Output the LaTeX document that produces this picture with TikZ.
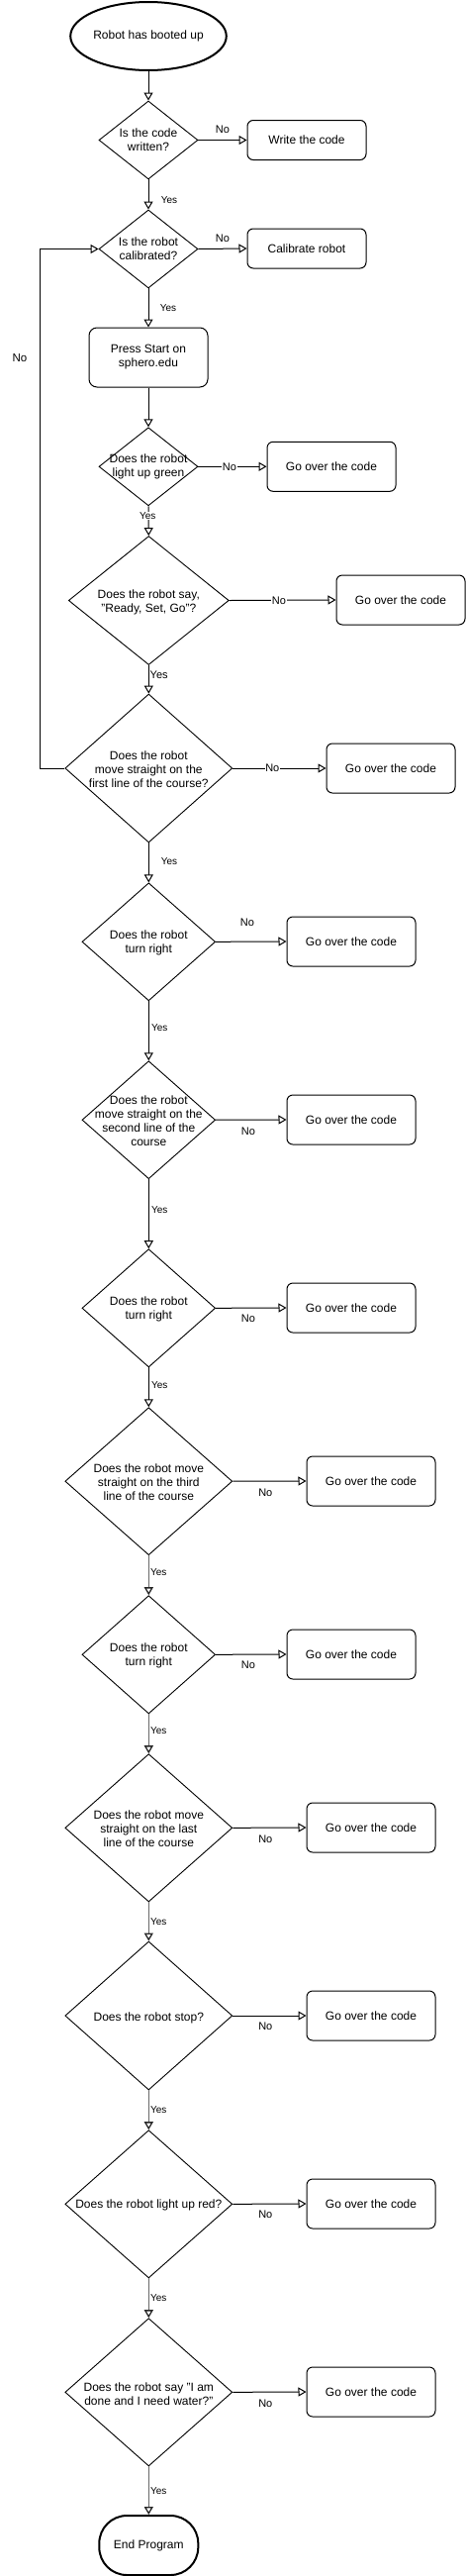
\documentclass[tikz,border=0pt]{standalone}
\usepackage{fontspec}
\setmainfont{Liberation Sans}
\usetikzlibrary{shapes.geometric,arrows.meta}
\definecolor{grayline}{RGB}{105,105,105}
\begin{document}
\begin{tikzpicture}[x=1pt,y=-1pt,
  every node/.style={font=\fontsize{12}{14}\selectfont},
  term/.style={draw=black,line width=2pt,ellipse,inner sep=0pt},
  dia/.style={draw=black,line width=0.9pt,diamond,inner sep=0pt},
  dtext/.style={align=center,inner sep=0pt},
  proc/.style={draw=black,line width=1pt,rounded corners=6pt,inner sep=0pt,minimum width=130pt,minimum height=50pt,align=center},
  arr/.style={draw=black,line width=1pt,-{Triangle[open,length=8pt,width=9pt]}},
  garr/.style={draw=grayline,line width=1.3pt,-{Triangle[open,length=8pt,width=9pt,color=black!85]}},
  lab/.style={font=\fontsize{11}{13}\selectfont,inner sep=0pt},
  ylab/.style={font=\fontsize{10}{12}\selectfont,inner sep=0pt},
  onl/.style={fill=white,inner sep=0.5pt}
]
\useasboundingbox (0,0) rectangle (471,2602);

% terminals
\node[term,minimum width=130pt,minimum height=69pt] (start) at (150,36.5) {Robot has booted up};
\node[draw=black,line width=2pt,rounded corners=28pt,minimum width=100pt,minimum height=60pt,inner sep=0pt] (end) at (150.3,2571) {End Program};

% diamonds
\node[dia,minimum width=100pt,minimum height=79pt] (d1) at (150,141.5) {};
\node[dtext] (d1t) at (d1) {Is the code\\written?};
\node[dia,minimum width=100pt,minimum height=79pt] (d2) at (150,251.5) {};
\node[dtext] (d2t) at (d2) {Is the robot\\calibrated?};
\node[dia,minimum width=100pt,minimum height=79pt] (d3) at (150,471.3) {};
\node[dtext] (d3t) at (d3) {Does the robot\\light up green};
\node[dia,minimum width=162pt,minimum height=130pt] (d4) at (150.3,606.5) {};
\node[dtext] (d4t) at ([yshift=-2pt]d4) {Does the robot say,\\ "Ready, Set, Go"?};
\node[dia,minimum width=169pt,minimum height=150pt] (d5) at (150.3,776) {};
\node[dtext] (d5t) at ([yshift=-1pt]d5) {Does the robot\\move straight on the\\first line of the course?};
\node[dia,minimum width=134.7pt,minimum height=119pt] (d6) at (150.3,951.3) {};
\node[dtext] (d6t) at ([yshift=-1.5pt]d6) {Does the robot\\turn right};
\node[dia,minimum width=134.7pt,minimum height=119pt] (d7) at (150.3,1131.2) {};
\node[dtext] (d7t) at ([yshift=-1pt]d7) {Does the robot\\move straight on the\\second line of the\\course};
\node[dia,minimum width=134.7pt,minimum height=119.3pt] (d8) at (150.3,1321.3) {};
\node[dtext] (d8t) at ([yshift=-1.5pt]d8) {Does the robot\\turn right};
\node[dia,minimum width=169pt,minimum height=149pt] (d9) at (150.3,1496.2) {};
\node[dtext] (d9t) at ([yshift=-1pt]d9) {Does the robot move\\straight on the third\\line of the course};
\node[dia,minimum width=134.7pt,minimum height=119.3pt] (d10) at (150.3,1671.3) {};
\node[dtext] (d10t) at ([yshift=-1.5pt]d10) {Does the robot\\turn right};
\node[dia,minimum width=169pt,minimum height=149.3pt] (d11) at (150.3,1846.3) {};
\node[dtext] (d11t) at ([yshift=-1pt]d11) {Does the robot move\\straight on the last\\line of the course};
\node[dia,minimum width=169pt,minimum height=150pt] (d12) at (150.3,2036) {};
\node[dtext] (d12t) at ([yshift=-2pt]d12) {Does the robot stop?};
\node[dia,minimum width=169pt,minimum height=149.3pt] (d13) at (150.3,2226.3) {};
\node[dtext] (d13t) at ([yshift=-1.5pt]d13) {Does the robot light up red?};
\node[dia,minimum width=169pt,minimum height=149.3pt] (d14) at (150.3,2416.3) {};
\node[dtext] (d14t) at ([yshift=-1.5pt]d14) {Does the robot say "I am\\done and I need water?"};

% process boxes
\node[proc,minimum width=120pt,minimum height=40pt] (b1) at (310,141.5) {Write the code};
\node[proc,minimum width=120pt,minimum height=40pt] (b2) at (310,251) {Calibrate robot};
\node[proc,minimum width=120pt,minimum height=60pt,rounded corners=8pt] (ps) at (150,361) {Press Start on\\sphero.edu};
\node[proc] (g3) at (335,471.3) {Go over the code};
\node[proc] (g4) at (405,606) {Go over the code};
\node[proc] (g5) at (395,776) {Go over the code};
\node[proc] (g6) at (355,951) {Go over the code};
\node[proc] (g7) at (355,1131) {Go over the code};
\node[proc] (g8) at (355,1321) {Go over the code};
\node[proc] (g9) at (375,1496) {Go over the code};
\node[proc] (g10) at (355,1671) {Go over the code};
\node[proc] (g11) at (375,1846) {Go over the code};
\node[proc] (g12) at (375,2036) {Go over the code};
\node[proc] (g13) at (375,2226) {Go over the code};
\node[proc] (g14) at (375,2416) {Go over the code};

% vertical connectors
\draw[arr] (start.south) -- (d1.north);
\draw[arr] (d1.south) -- (d2.north);
\draw[arr] (d2.south) -- (ps.north);
\draw[arr] (ps.south) -- (d3.north);
\draw[arr] (d3.south) -- (d4.north);
\draw[arr] (d4.south) -- (d5.north);
\draw[arr] (d5.south) -- (d6.north);
\draw[arr] (d6.south) -- (d7.north);
\draw[arr] (d7.south) -- (d8.north);
\draw[arr] (d8.south) -- (d9.north);
\draw[garr] (d9.south) -- (d10.north);
\draw[garr] (d10.south) -- (d11.north);
\draw[garr] (d11.south) -- (d12.north);
\draw[garr] (d12.south) -- (d13.north);
\draw[garr] (d13.south) -- (d14.north);
\draw[garr] (d14.south) -- (end.north);

% horizontal connectors
\draw[arr] (d1.east) -- (b1.west);
\draw[arr] (d2.east) -- (b2.west);
\draw[arr] (d3.east) -- (g3.west);
\draw[arr] (d4.east) -- (g4.west);
\draw[arr] (d5.east) -- (g5.west);
\draw[arr] (d6.east) -- (g6.west);
\draw[arr] (d7.east) -- (g7.west);
\draw[arr] (d8.east) -- (g8.west);
\draw[arr] (d9.east) -- (g9.west);
\draw[arr] (d10.east) -- (g10.west);
\draw[arr] (d11.east) -- (g11.west);
\draw[arr] (d12.east) -- (g12.west);
\draw[arr] (d13.east) -- (g13.west);
\draw[arr] (d14.east) -- (g14.west);

% loop back
\coordinate (lx) at (40.3,0);
\draw[arr] (d5.west) -- (d5.west -| lx) |- (d2.west);

% labels
\node[lab] (n1) at (225,131) {No};
\node[ylab] (y1) at (171,202) {Yes};
\node[lab] (n2) at (225,241) {No};
\node[ylab] (y2) at (170,311) {Yes};
\node[lab,font=\fontsize{11.5}{13}\selectfont] (nl) at (20,361.7) {No};
\node[lab,onl] (n3) at (232,471.3) {No};
\node[ylab,onl] (y3) at (149.3,521) {Yes};
\node[lab,onl] (n4) at (282,606.5) {No};
\node[lab,font=\fontsize{11}{13}\selectfont] (y4) at (160.7,681.7) {Yes};
\node[lab,onl] (n5) at (275.3,776) {No};
\node[ylab] (y5) at (171,870) {Yes};
\node[lab] (n6) at (250,931.7) {No};
\node[ylab] (y6) at (161.3,1037.7) {Yes};
\node[lab] (n7) at (251,1142.3) {No};
\node[ylab] (y7) at (161.3,1222) {Yes};
\node[lab] (n8) at (251,1332) {No};
\node[ylab] (y8) at (161.3,1399) {Yes};
\node[lab] (n9) at (268.3,1507.3) {No};
\node[ylab] (y9) at (160.3,1588) {Yes};
\node[lab] (n10) at (251,1682) {No};
\node[ylab] (y10) at (160.3,1748) {Yes};
\node[lab] (n11) at (268.3,1857.3) {No};
\node[ylab] (y11) at (160.3,1941) {Yes};
\node[lab] (n12) at (268.3,2047) {No};
\node[ylab] (y12) at (160.3,2131) {Yes};
\node[lab] (n13) at (268.3,2237) {No};
\node[ylab] (y13) at (160.3,2321) {Yes};
\node[lab] (n14) at (268.3,2427.3) {No};
\node[ylab] (y14) at (160.3,2516) {Yes};
\end{tikzpicture}
\end{document}
